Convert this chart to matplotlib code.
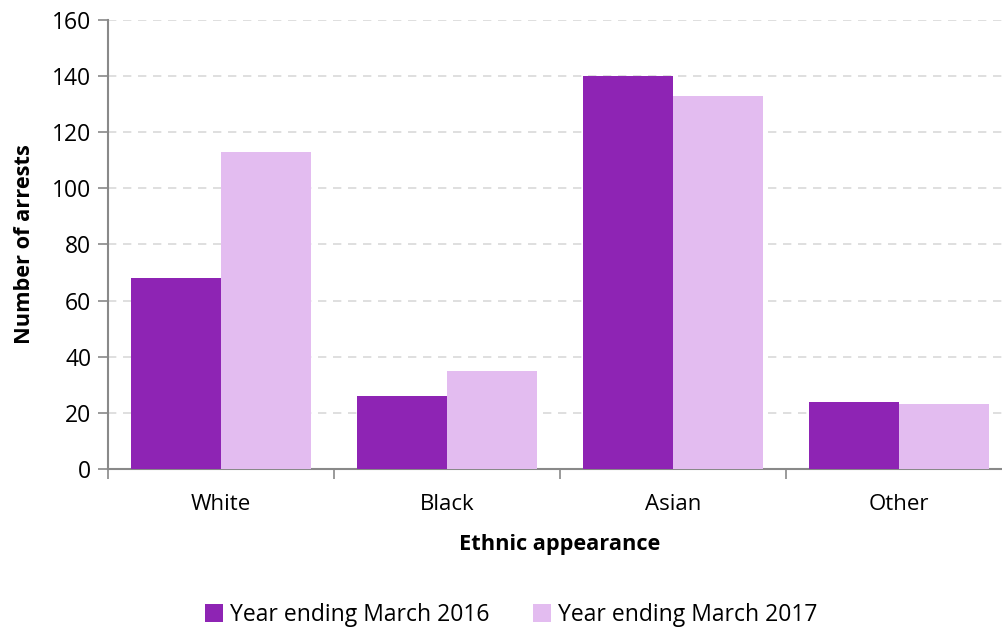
import matplotlib.pyplot as plt
import numpy as np

categories = ['White', 'Black', 'Asian', 'Other']
arrests_2016 = [68, 26, 140, 24]
arrests_2017 = [113, 35, 133, 23]
series_labels = ['Year ending March 2016', 'Year ending March 2017']

plt.rcParams['font.family'] = ['Open Sans', 'DejaVu Sans']

fig = plt.figure(figsize=(10.02, 6.3), dpi=100)
# plot area runs slightly past the right edge of the image, as in the original
ax = fig.add_axes([0.1078, 0.2556, 0.9022, 0.7127])

x = np.arange(len(categories))
w = 0.4
ax.bar(x - w / 2, arrests_2016, w, color='#8E24B4', label=series_labels[0], zorder=3)
ax.bar(x + w / 2, arrests_2017, w, color='#E3BCF0', label=series_labels[1], zorder=3)

ax.set_xlim(-0.5, len(categories) - 0.5)
ax.set_ylim(0, 160)
ax.set_yticks(range(0, 161, 20))
ax.yaxis.grid(True, linestyle=(0, (5, 4)), color='#D9D9D9', linewidth=1.2, zorder=0)

ax.set_xticks(x)
ax.set_xticklabels(categories)
ax.set_xticks(np.arange(-0.5, len(categories), 1), minor=True)
ax.tick_params(axis='x', which='major', length=0, pad=18, labelsize=16)
ax.tick_params(axis='x', which='minor', length=7, width=1.2, color='#898989')
ax.tick_params(axis='y', length=7, width=1.2, color='#898989', labelsize=16.5, pad=5)

for s in ['top', 'right']:
    ax.spines[s].set_visible(False)
for s in ['left', 'bottom']:
    ax.spines[s].set_color('#898989')
    ax.spines[s].set_linewidth(1.5)

ax.set_xlabel('Ethnic appearance', fontsize=15.7, fontweight='bold', labelpad=14)
ax.set_ylabel('Number of arrests', fontsize=15.7, fontweight='bold', labelpad=12)

fig.legend(loc='center', bbox_to_anchor=(0.51, 0.024), ncol=2, frameon=False,
           fontsize=16.5, handlelength=0.8, handleheight=0.8, handletextpad=0.3,
           columnspacing=1.9)

fig.savefig('out.png', dpi=100)
